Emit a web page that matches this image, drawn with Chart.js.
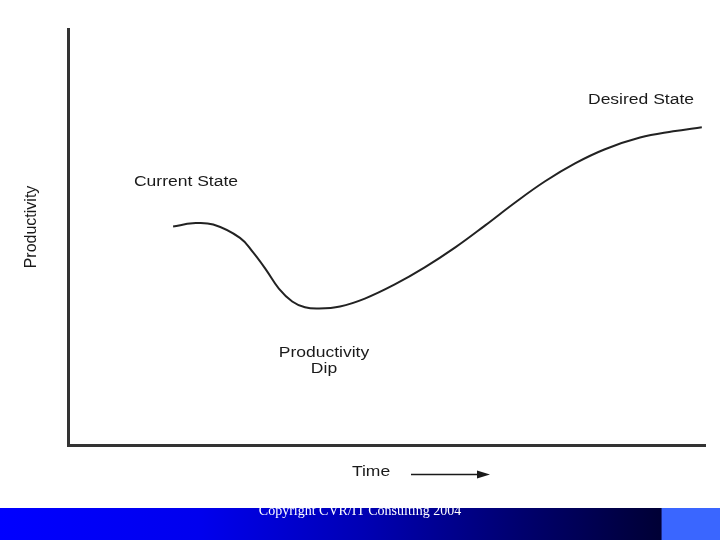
<!DOCTYPE html>
<html>
<head>
<meta charset="utf-8">
<title>Productivity Dip</title>
<script src="https://cdn.jsdelivr.net/npm/chart.js@4.4.1/dist/chart.umd.min.js"></script>
<style>
    html, body { margin: 0; padding: 0; background: #fff; }
    #wrap { position: relative; width: 720px; height: 540px; overflow: hidden; background: #fff; }
    #chart-box { position: absolute; left: 0; top: 0; width: 720px; height: 507px; }
    .footer {
        position: absolute; left: 0; top: 508px; width: 661px; height: 32px;
        background: linear-gradient(to right, #0000ff 0%, #0000ee 30%, #0000b4 55%, #000070 78%, #000035 100%);
    }
    .footer-box {
        position: absolute; left: 661px; top: 508px; width: 58px; height: 32px;
        background: #3a66ff; border-left: 1px solid #1c2c8a;
    }
    .copyright {
        position: absolute; left: 0; top: 503px; width: 720px; text-align: center;
        font-family: "Liberation Serif", "DejaVu Serif", serif; font-size: 14px; color: #fff;
    }
</style>
</head>
<body>
<div id="wrap">
    <div id="chart-box"><canvas id="chart"></canvas></div>
    <div class="footer"></div>
    <div class="footer-box"></div>
    <div class="copyright">Copyright CVR/IT Consulting 2004</div>
</div>
<script>
// time (0-100) and productivity (0-100)
const timeValues = [16.5, 19.6, 22.8, 27.0, 29.0, 31.1, 33.1, 35.2, 37.2, 39.3, 42.7,
                    46.6, 51.3, 56.0, 60.8, 65.5, 70.2, 74.9, 79.6, 84.3, 89.8, 95.0, 99.5];
const productivityValues = [52.5, 53.3, 53.0, 49.8, 46.4, 42.1, 37.6, 34.5, 33.1, 32.8, 33.3,
                            35.2, 38.6, 42.7, 47.5, 52.8, 58.3, 63.4, 67.7, 71.1, 73.9, 75.4, 76.4];

const curve = timeValues.map((t, i) => ({ x: t, y: productivityValues[i] }));

function stretchText(ctx, text, cx, cy, size, sx) {
    ctx.save();
    ctx.translate(cx, cy);
    ctx.scale(sx, 1);
    ctx.font = size + 'px "Liberation Sans", Arial, sans-serif';
    ctx.fillStyle = '#1a1a1a';
    ctx.textAlign = 'center';
    ctx.textBaseline = 'middle';
    ctx.fillText(text, 0, 0);
    ctx.restore();
}

const labelsPlugin = {
    id: 'labels',
    afterDraw(chart) {
        const ctx = chart.ctx;
        stretchText(ctx, 'Current State', 186, 182, 14, 1.25);
        stretchText(ctx, 'Desired State', 641, 100, 14, 1.25);
        stretchText(ctx, 'Productivity', 324, 353, 14, 1.25);
        stretchText(ctx, 'Dip', 324, 369, 14, 1.25);
        stretchText(ctx, 'Time', 371, 472, 14, 1.25);

        // y axis title
        ctx.save();
        ctx.translate(32, 227);
        ctx.rotate(-Math.PI / 2);
        ctx.font = '16px "Liberation Sans", Arial, sans-serif';
        ctx.fillStyle = '#1a1a1a';
        ctx.textAlign = 'center';
        ctx.textBaseline = 'middle';
        ctx.fillText('Productivity', 0, 0);
        ctx.restore();

        // arrow after "Time"
        ctx.save();
        ctx.strokeStyle = '#1a1a1a';
        ctx.fillStyle = '#1a1a1a';
        ctx.lineWidth = 1.5;
        ctx.beginPath();
        ctx.moveTo(411, 474.5);
        ctx.lineTo(480, 474.5);
        ctx.stroke();
        ctx.beginPath();
        ctx.moveTo(490, 474.5);
        ctx.lineTo(477, 470.5);
        ctx.lineTo(477, 478.5);
        ctx.closePath();
        ctx.fill();
        ctx.restore();
    }
};

const ctx = document.getElementById('chart').getContext('2d');
new Chart(ctx, {
    type: 'line',
    data: {
        datasets: [{
            data: curve,
            borderColor: '#222',
            borderWidth: 2,
            pointRadius: 0,
            fill: false,
            tension: 0.4
        }]
    },
    options: {
        responsive: true,
        maintainAspectRatio: false,
        animation: false,
        layout: { padding: { left: 68, right: 15, top: 29, bottom: 62 } },
        plugins: {
            legend: { display: false },
            tooltip: { enabled: false }
        },
        scales: {
            x: {
                type: 'linear',
                min: 0,
                max: 100,
                ticks: { display: false },
                grid: { display: false, drawTicks: false },
                border: { display: true, color: '#333', width: 3 }
            },
            y: {
                min: 0,
                max: 100,
                ticks: { display: false },
                grid: { display: false, drawTicks: false },
                border: { display: true, color: '#333', width: 3 }
            }
        }
    },
    plugins: [labelsPlugin]
});
</script>
</body>
</html>
